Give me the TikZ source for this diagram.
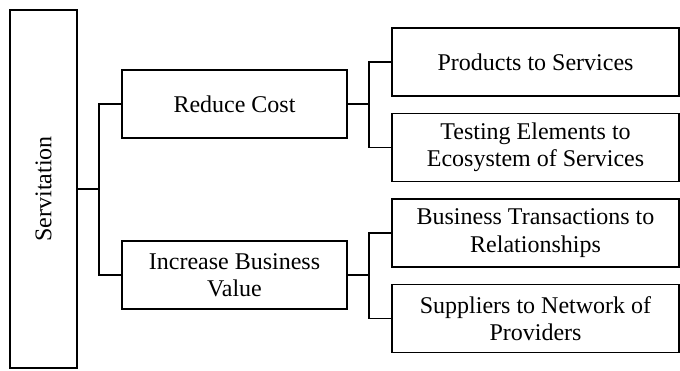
\documentclass[tikz,border=0pt]{standalone}
\usepackage{fontspec}
\setmainfont{Liberation Serif}
\begin{document}
\begin{tikzpicture}[x=1pt,y=-1pt,
  box/.style={draw,line width=1.6pt,inner sep=0pt,align=center,font=\rmfamily\fontsize{24}{27.5}\selectfont},
  conn/.style={line width=1.6pt,line join=miter}]
\useasboundingbox (0,0) rectangle (680,370);
\node[box,minimum width=67pt,minimum height=358pt] (serv) at (43.5,189) {};
\node[rotate=90,font=\rmfamily\fontsize{24}{27.5}\selectfont,inner sep=0pt] (servt) at (43.5,189) {Servitation};
\node[box,minimum width=225pt,minimum height=68pt] (rc) at (234.5,104) {Reduce Cost};
\node[box,minimum width=225pt,minimum height=68pt] (ibv) at (234.5,275) {Increase Business\\Value};
\node[box,minimum width=287pt,minimum height=68pt] (p1) at (535.5,62) {Products to Services};
\node[box,minimum width=287pt,minimum height=68pt] (p2) at (535.5,147.5) {Testing Elements to\\Ecosystem of Services};
\node[box,minimum width=287pt,minimum height=68pt] (p3) at (535.5,233) {Business Transactions to\\Relationships};
\node[box,minimum width=287pt,minimum height=68pt] (p4) at (535.5,318.5) {Suppliers to Network of\\Providers};
\coordinate (j1) at (99,189);
\coordinate (j2) at (369,104);
\coordinate (j3) at (369,275);
\draw[conn] (serv.east) -- (j1);
\draw[conn] (rc.west) -| (j1) |- (ibv.west);
\draw[conn] (rc.east) -- (j2);
\draw[conn] (p1.west) -| (j2) |- (p2.west);
\draw[conn] (ibv.east) -- (j3);
\draw[conn] (p3.west) -| (j3) |- (p4.west);
\end{tikzpicture}
\end{document}
